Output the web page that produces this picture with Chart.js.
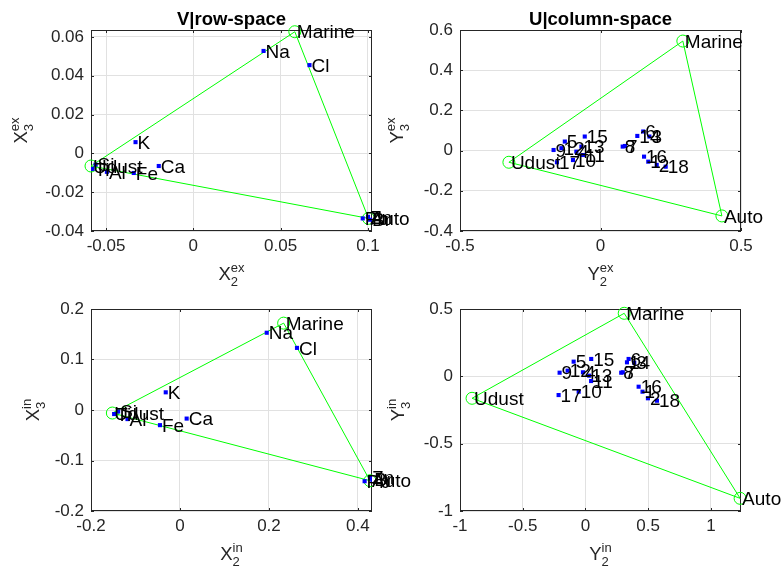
<!DOCTYPE html>
<html><head><meta charset="utf-8">
<script src="https://cdn.jsdelivr.net/npm/chart.js@4.4.0/dist/chart.umd.min.js"></script>
<style>
html,body{margin:0;padding:0;background:#fff;}
body{width:784px;height:571px;overflow:hidden;position:relative;}
canvas{position:absolute;}
</style></head><body>
<canvas id="tl" style="left:0px;top:0px;width:440px;height:300px" width="440" height="300"></canvas>
<canvas id="tr" style="left:362px;top:0px;width:422px;height:300px" width="422" height="300"></canvas>
<canvas id="bl" style="left:0px;top:280px;width:440px;height:291px" width="440" height="291"></canvas>
<canvas id="br" style="left:362px;top:280px;width:422px;height:291px" width="422" height="291"></canvas>
<script>
// ---------------- data ----------------
const elementNames = ['Na','Cl','K','Ca','Fe','Si','Ti','Al','Pb','Zn','Br'];
const vExX2 = [0.0402, 0.0665, -0.0331, -0.0198, -0.0341, -0.0560, -0.0578, -0.0495, 0.0970, 0.1000, 0.1012];
const vExX3 = [0.0528, 0.0455, 0.0058, -0.0065, -0.0101, -0.0058, -0.0080, -0.0095, -0.0335, -0.0327, -0.0342];
const vInX2 = [0.195, 0.263, -0.032, 0.015, -0.045, -0.139, -0.148, -0.118, 0.415, 0.427, 0.432];
const vInX3 = [0.153, 0.123, 0.035, -0.017, -0.030, -0.003, -0.008, -0.018, -0.141, -0.134, -0.138];

const sourceNames = ['Udust','Marine','Auto'];
const srcExX2 = [-0.0586, 0.0581, 0.1003];
const srcExX3 = [-0.0065, 0.0627, -0.0335];
const srcInX2 = [-0.152, 0.233, 0.427];
const srcInX3 = [-0.006, 0.172, -0.140];
const srcExY2 = [-0.326, 0.293, 0.432];
const srcExY3 = [-0.058, 0.545, -0.325];
const srcInY2 = [-0.904, 0.309, 1.233];
const srcInY3 = [-0.163, 0.468, -0.906];

const sampleIds = ['1','2','3','4','5','6','7','8','9','10','11','12','13','14','15','16','17','18'];
const uExY2 = [0.170, 0.200, 0.174, -0.086, -0.127, 0.152, 0.087, 0.079, -0.167, -0.098, -0.062, -0.139, -0.068, 0.131, -0.056, 0.155, -0.155, 0.232];
const uExY3 = [-0.055, -0.071, 0.070, -0.005, 0.045, 0.095, 0.023, 0.020, 0.003, -0.047, -0.022, 0.012, 0.020, 0.073, 0.070, -0.030, -0.058, -0.080];
const uInY2 = [0.455, 0.498, 0.389, -0.020, -0.094, 0.344, 0.298, 0.285, -0.206, -0.054, 0.045, -0.142, 0.030, 0.331, 0.046, 0.424, -0.214, 0.570];
const uInY3 = [-0.114, -0.163, 0.101, 0.030, 0.109, 0.129, 0.030, 0.027, 0.027, -0.114, -0.035, 0.042, 0.005, 0.104, 0.129, -0.077, -0.139, -0.181];

const tlXTicks = [-0.05, 0, 0.05, 0.1];
const tlYTicks = [-0.04, -0.02, 0, 0.02, 0.04, 0.06];
const trXTicks = [-0.5, 0, 0.5];
const trYTicks = [-0.4, -0.2, 0, 0.2, 0.4, 0.6];
const blXTicks = [-0.2, 0, 0.2, 0.4];
const blYTicks = [-0.2, -0.1, 0, 0.1, 0.2];
const brXTicks = [-1, -0.5, 0, 0.5, 1];
const brYTicks = [-1, -0.5, 0, 0.5];

// ---------------- drawing helpers ----------------
const FAM = '"Liberation Sans", Arial, Helvetica, sans-serif';
const AXC = '#262626';

function pts(xs, ys) { return xs.map((x, i) => ({x: x, y: ys[i]})); }

function scriptLabel(ctx, lab) {
  ctx.font = '18.5px ' + FAM;
  const wb = ctx.measureText(lab.base).width;
  ctx.font = '13px ' + FAM;
  const ws = Math.max(ctx.measureText(lab.sub).width, ctx.measureText(lab.sup).width);
  const x0 = -(wb + ws) / 2;
  ctx.fillStyle = AXC; ctx.textAlign = 'left'; ctx.textBaseline = 'alphabetic';
  ctx.font = '18.5px ' + FAM; ctx.fillText(lab.base, x0, 0);
  ctx.font = '13px ' + FAM;
  ctx.fillText(lab.sub, x0 + wb, 6);
  ctx.fillText(lab.sup, x0 + wb, -8);
}

const matlabPlugin = {
  id: 'matlab',
  beforeDatasetsDraw(chart, args, o) {
    const {ctx, chartArea: a, scales} = chart;
    ctx.save();
    ctx.strokeStyle = AXC; ctx.lineWidth = 1;
    ctx.strokeRect(Math.round(a.left) + 0.5, Math.round(a.top) + 0.5, Math.round(a.right - a.left) - 1, Math.round(a.bottom - a.top) - 1);
    ctx.beginPath();
    scales.x.ticks.forEach(t => {
      const px = Math.round(scales.x.getPixelForValue(t.value)) + 0.5;
      ctx.moveTo(px, a.bottom); ctx.lineTo(px, a.bottom - 3);
      ctx.moveTo(px, a.top); ctx.lineTo(px, a.top + 3);
    });
    scales.y.ticks.forEach(t => {
      const py = Math.round(scales.y.getPixelForValue(t.value)) + 0.5;
      ctx.moveTo(a.left, py); ctx.lineTo(a.left + 3, py);
      ctx.moveTo(a.right, py); ctx.lineTo(a.right - 3, py);
    });
    ctx.stroke();
    ctx.restore();
  },
  afterDatasetsDraw(chart, args, o) {
    const {ctx, chartArea: a} = chart;
    ctx.save();
    chart.data.datasets.forEach((ds, di) => {
      if (!ds.textLabels) return;
      const meta = chart.getDatasetMeta(di);
      ctx.font = '19px ' + FAM;
      ctx.fillStyle = '#000';
      ctx.textAlign = 'left'; ctx.textBaseline = 'middle';
      meta.data.forEach((el, i) => {
        ctx.fillText(ds.textLabels[i], el.x + 2, el.y + 1.5);
      });
    });
    const cx = (a.left + a.right) / 2, cy = (a.top + a.bottom) / 2;
    if (o.title) {
      ctx.font = 'bold 18.5px ' + FAM; ctx.fillStyle = '#000';
      ctx.textAlign = 'center'; ctx.textBaseline = 'alphabetic';
      ctx.fillText(o.title, cx, 25);
    }
    if (o.xlab) { ctx.save(); ctx.translate(cx, o.xlabY); scriptLabel(ctx, o.xlab); ctx.restore(); }
    if (o.ylab) { ctx.save(); ctx.translate(o.ylabX, cy); ctx.rotate(-Math.PI / 2); scriptLabel(ctx, o.ylab); ctx.restore(); }
    ctx.restore();
  }
};

function fmt(v) { return Math.abs(v) < 1e-12 ? '0' : String(v); }

function makeChart(id, c) {
  const axis = (min, max, ticks, fitFn, pad) => ({
    type: 'linear', min: min, max: max,
    afterBuildTicks: s => { s.ticks = ticks.map(v => ({value: v})); },
    afterFit: fitFn,
    grid: {color: '#e1e1e1', lineWidth: 1, drawTicks: false},
    border: {display: false},
    ticks: {font: {family: FAM, size: 17, lineHeight: 1.2}, color: AXC, padding: pad,
            autoSkip: false, maxRotation: 0, minRotation: 0, callback: v => fmt(v)}
  });
  return new Chart(document.getElementById(id), {
    type: 'scatter',
    data: {
      datasets: [
        {data: pts(c.px, c.py), textLabels: c.pl, pointStyle: 'rect', pointRadius: 2.9,
         pointBackgroundColor: '#0000ff', pointBorderWidth: 0, borderWidth: 0},
        {data: pts(c.sx, c.sy), textLabels: sourceNames, pointStyle: 'circle', pointRadius: 6,
         pointBackgroundColor: 'rgba(0,0,0,0)', pointBorderColor: '#00ff00', pointBorderWidth: 1, clip: false},
        {data: pts([c.sx[0], c.sx[1], c.sx[2], c.sx[0]], [c.sy[0], c.sy[1], c.sy[2], c.sy[0]]),
         showLine: true, borderColor: '#00ff00', borderWidth: 1, pointRadius: 0, fill: false, tension: 0, clip: false}
      ]
    },
    options: {
      responsive: false, animation: false, events: [],
      layout: {padding: {left: 0, top: c.top, right: c.right, bottom: 0}},
      plugins: {legend: {display: false}, tooltip: {enabled: false}, title: {display: false},
        matlab: {title: c.title, xlab: c.xlab, ylab: c.ylab, xlabY: c.xlabY, ylabX: c.ylabX}},
      scales: {
        x: axis(c.xmin, c.xmax, c.xt, s => { s.height = c.xh; }, 5),
        y: axis(c.ymin, c.ymax, c.yt, s => { s.width = c.yw; }, 7)
      }
    },
    plugins: [matlabPlugin]
  });
}

makeChart('tl', {px: vExX2, py: vExX3, pl: elementNames, sx: srcExX2, sy: srcExX3,
  xmin: -0.0586, xmax: 0.1023, ymin: -0.04, ymax: 0.0636, xt: tlXTicks, yt: tlYTicks,
  top: 30, right: 68, xh: 69, yw: 91, title: 'V|row-space',
  xlab: {base: 'X', sub: '2', sup: 'ex'}, ylab: {base: 'X', sub: '3', sup: 'ex'}, xlabY: 280, ylabX: 27});
makeChart('tr', {px: uExY2, py: uExY3, pl: sampleIds, sx: srcExY2, sy: srcExY3,
  xmin: -0.5, xmax: 0.5, ymin: -0.4, ymax: 0.6, xt: trXTicks, yt: trYTicks,
  top: 30, right: 43, xh: 69, yw: 98, title: 'U|column-space',
  xlab: {base: 'Y', sub: '2', sup: 'ex'}, ylab: {base: 'Y', sub: '3', sup: 'ex'}, xlabY: 280, ylabX: 41});
makeChart('bl', {px: vInX2, py: vInX3, pl: elementNames, sx: srcInX2, sy: srcInX3,
  xmin: -0.2, xmax: 0.4316, ymin: -0.2, ymax: 0.2, xt: blXTicks, yt: blYTicks,
  top: 29, right: 68, xh: 60, yw: 91, title: '',
  xlab: {base: 'X', sub: '2', sup: 'in'}, ylab: {base: 'X', sub: '3', sup: 'in'}, xlabY: 280, ylabX: 39});
makeChart('br', {px: uInY2, py: uInY3, pl: sampleIds, sx: srcInY2, sy: srcInY3,
  xmin: -1, xmax: 1.24, ymin: -1, ymax: 0.5, xt: brXTicks, yt: brYTicks,
  top: 29, right: 43, xh: 60, yw: 98, title: '',
  xlab: {base: 'Y', sub: '2', sup: 'in'}, ylab: {base: 'Y', sub: '3', sup: 'in'}, xlabY: 280, ylabX: 42});
</script>
</body></html>
